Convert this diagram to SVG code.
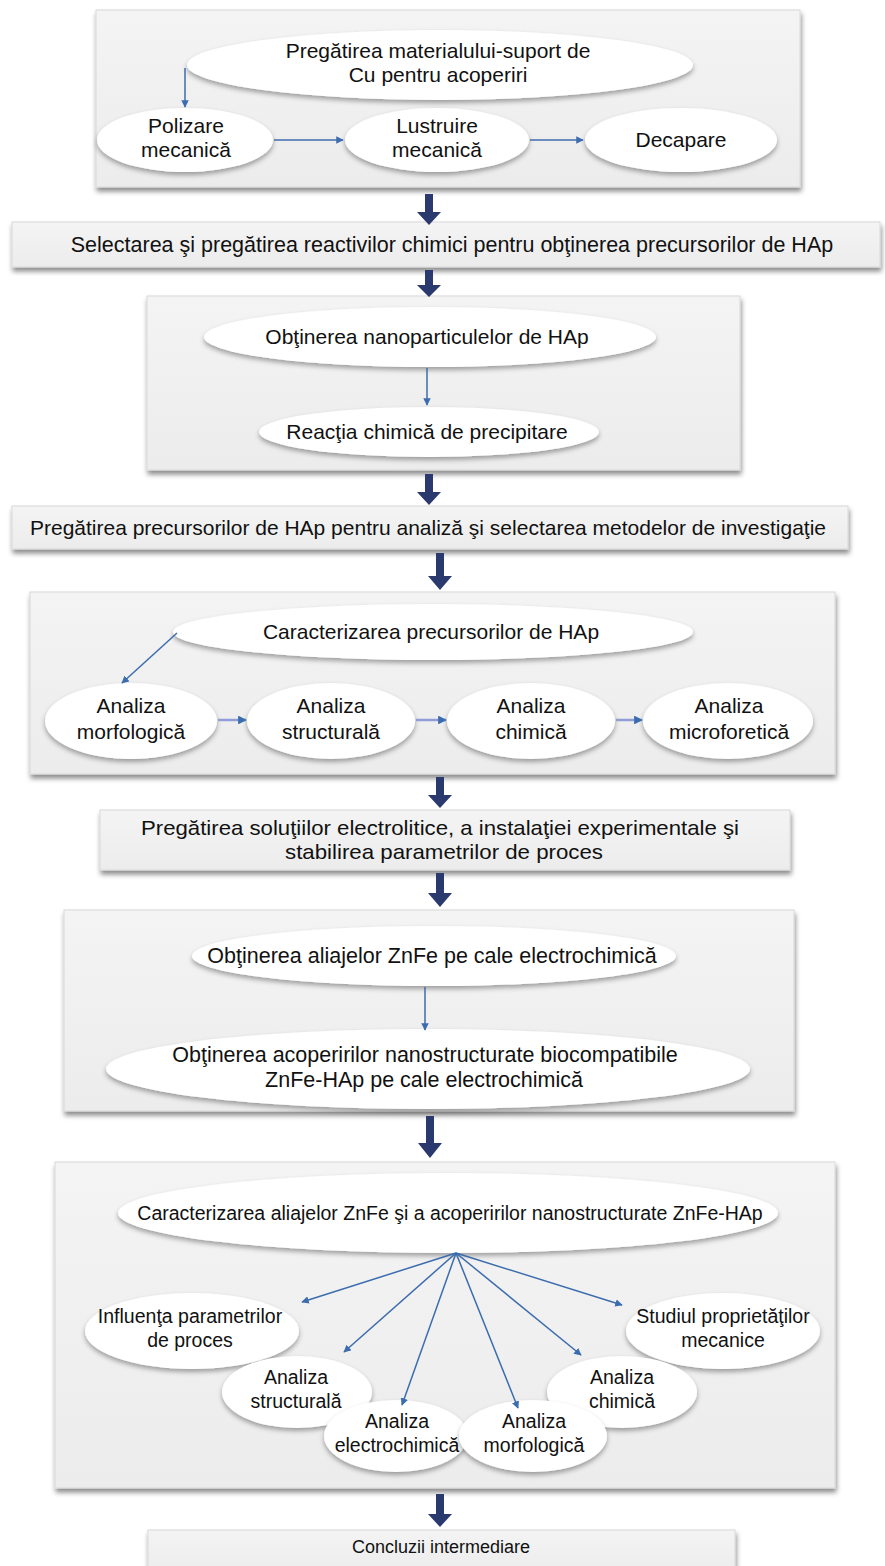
<svg xmlns="http://www.w3.org/2000/svg" width="885" height="1566" viewBox="0 0 885 1566">
<defs>
<filter id="sh" x="-10%" y="-10%" width="120%" height="130%">
<feDropShadow dx="1" dy="4" stdDeviation="2.5" flood-color="#000" flood-opacity="0.45"/>
</filter>
<filter id="esh" x="-10%" y="-20%" width="120%" height="150%">
<feDropShadow dx="0" dy="3" stdDeviation="2.5" flood-color="#000" flood-opacity="0.35"/>
</filter>
<linearGradient id="boxg" x1="0" y1="0" x2="0" y2="1">
<stop offset="0" stop-color="#f4f4f4"/>
<stop offset="1" stop-color="#ececec"/>
</linearGradient>
<marker id="ah" viewBox="0 0 10 10" refX="9" refY="5" markerWidth="5" markerHeight="5" orient="auto" markerUnits="strokeWidth">
<path d="M0,0 L10,5 L0,10 z" fill="#3b6cae"/>
</marker>
<marker id="ahl" viewBox="0 0 10 10" refX="9" refY="5" markerWidth="3.5" markerHeight="3.5" orient="auto" markerUnits="strokeWidth">
<path d="M0,0 L10,5 L0,10 z" fill="#3b6cae"/>
</marker>
</defs>
<style>
.box{fill:url(#boxg);stroke:#d8d8d8;stroke-width:1;filter:url(#sh)}
.ell{fill:#ffffff;filter:url(#esh)}
.t{font-family:"Liberation Sans",Arial,sans-serif;font-size:21px;fill:#111;text-anchor:middle}
.s195{font-size:19.5px}
.s215{font-size:21.5px}
.s18{font-size:18px}
.c{stroke:#3b6cae;stroke-width:1.5;fill:none;marker-end:url(#ah)}
.cl{stroke:#8f9ed8;stroke-width:2.5;fill:none;marker-end:url(#ahl)}
.big{fill:#2b3a6e}
</style>
<rect width="885" height="1566" fill="#ffffff"/>

<g id="box1">
<rect class="box" x="96" y="10" width="704" height="177"/>
</g>
<g id="n_pregatire_cu">
<ellipse class="ell" cx="440" cy="65" rx="253" ry="35"/>
<text class="t" x="438" y="58">Pregătirea materialului-suport de</text>
<text class="t" x="438" y="82">Cu pentru acoperiri</text>
</g>
<g id="n_polizare">
<ellipse class="ell" cx="185" cy="140" rx="88" ry="32"/>
<text class="t" x="186" y="133">Polizare</text>
<text class="t" x="186" y="157">mecanică</text>
</g>
<g id="n_lustruire">
<ellipse class="ell" cx="437" cy="140" rx="92" ry="32"/>
<text class="t" x="437" y="133">Lustruire</text>
<text class="t" x="437" y="157">mecanică</text>
</g>
<g id="n_decapare">
<ellipse class="ell" cx="681" cy="140" rx="96" ry="32"/>
<text class="t" x="681" y="147">Decapare</text>
</g>

<g id="bar2">
<rect class="box" x="12" y="222" width="868" height="45"/>
<text class="t s215" x="452" y="252">Selectarea şi pregătirea reactivilor chimici pentru obţinerea precursorilor de HAp</text>
</g>

<g id="box3">
<rect class="box" x="147" y="296" width="593" height="174"/>
</g>
<g id="n_nanoparticule">
<ellipse class="ell" cx="430" cy="337" rx="226" ry="30"/>
<text class="t" x="427" y="344">Obţinerea nanoparticulelor de HAp</text>
</g>
<g id="n_reactia">
<ellipse class="ell" cx="429" cy="432" rx="170" ry="25"/>
<text class="t" x="427" y="439">Reacţia chimică de precipitare</text>
</g>

<g id="bar4">
<rect class="box" x="12" y="506" width="836" height="43"/>
<text class="t" x="428" y="535">Pregătirea precursorilor de HAp pentru analiză şi selectarea metodelor de investigaţie</text>
</g>

<g id="box5">
<rect class="box" x="30" y="592" width="805" height="182"/>
</g>
<g id="n_caract_prec">
<ellipse class="ell" cx="433" cy="632" rx="260" ry="28"/>
<text class="t" x="431" y="639">Caracterizarea precursorilor de HAp</text>
</g>
<g id="n_morf1">
<ellipse class="ell" cx="131" cy="721" rx="86" ry="38"/>
<text class="t" x="131" y="713">Analiza</text>
<text class="t" x="131" y="739">morfologică</text>
</g>
<g id="n_struct1">
<ellipse class="ell" cx="331" cy="721" rx="84" ry="38"/>
<text class="t" x="331" y="713">Analiza</text>
<text class="t" x="331" y="739">structurală</text>
</g>
<g id="n_chim1">
<ellipse class="ell" cx="531" cy="721" rx="84" ry="38"/>
<text class="t" x="531" y="713">Analiza</text>
<text class="t" x="531" y="739">chimică</text>
</g>
<g id="n_microf">
<ellipse class="ell" cx="728" cy="721" rx="85" ry="38"/>
<text class="t" x="729" y="713">Analiza</text>
<text class="t" x="729" y="739">microforetică</text>
</g>

<g id="bar6">
<rect class="box" x="100" y="810" width="690" height="60"/>
<text class="t" x="440" y="835" textLength="598" lengthAdjust="spacingAndGlyphs">Pregătirea soluţiilor electrolitice, a instalaţiei experimentale şi</text>
<text class="t" x="444" y="859" textLength="318" lengthAdjust="spacingAndGlyphs">stabilirea parametrilor de proces</text>
</g>

<g id="box7">
<rect class="box" x="64" y="910" width="730" height="201"/>
</g>
<g id="n_aliaje">
<ellipse class="ell" cx="434" cy="956" rx="242" ry="30"/>
<text class="t s215" x="432" y="963">Obţinerea aliajelor ZnFe pe cale electrochimică</text>
</g>
<g id="n_acoperiri">
<ellipse class="ell" cx="428" cy="1069" rx="322" ry="40"/>
<text class="t s215" x="425" y="1062">Obţinerea acoperirilor nanostructurate biocompatibile</text>
<text class="t s215" x="424" y="1087">ZnFe-HAp pe cale electrochimică</text>
</g>

<g id="box8">
<rect class="box" x="55" y="1162" width="780" height="326"/>
</g>
<g id="n_caract_znfe">
<ellipse class="ell" cx="448" cy="1213" rx="330" ry="40"/>
<text class="t s195" x="450" y="1220">Caracterizarea aliajelor ZnFe şi a acoperirilor nanostructurate ZnFe-HAp</text>
</g>
<g id="n_influenta">
<ellipse class="ell" cx="192" cy="1331" rx="107" ry="38"/>
<text class="t s195" x="190" y="1323">Influenţa parametrilor</text>
<text class="t s195" x="190" y="1347">de proces</text>
</g>
<g id="n_mecanice">
<ellipse class="ell" cx="723" cy="1331" rx="97" ry="38"/>
<text class="t s195" x="723" y="1323">Studiul proprietăţilor</text>
<text class="t s195" x="723" y="1347">mecanice</text>
</g>
<g id="n_struct2">
<ellipse class="ell" cx="297" cy="1392" rx="75" ry="36"/>
<text class="t s195" x="296" y="1384">Analiza</text>
<text class="t s195" x="296" y="1408">structurală</text>
</g>
<g id="n_chim2">
<ellipse class="ell" cx="622" cy="1392" rx="75" ry="36"/>
<text class="t s195" x="622" y="1384">Analiza</text>
<text class="t s195" x="622" y="1408">chimică</text>
</g>
<g id="n_electro">
<ellipse class="ell" cx="396" cy="1436" rx="72" ry="36"/>
<text class="t s195" x="397" y="1428">Analiza</text>
<text class="t s195" x="397" y="1452">electrochimică</text>
</g>
<g id="n_morf2">
<ellipse class="ell" cx="533" cy="1436" rx="74" ry="36"/>
<text class="t s195" x="534" y="1428">Analiza</text>
<text class="t s195" x="534" y="1452">morfologică</text>
</g>

<g id="bar9">
<rect class="box" x="148" y="1530" width="587" height="44"/>
<text class="t s18" x="441" y="1553">Concluzii intermediare</text>
</g>

<g id="connectors">
<path class="c" d="M185,68 L185,107"/>
<path class="c" d="M274,140 L343,140"/>
<path class="c" d="M530,140 L583,140"/>
<path class="c" d="M427,368 L427,405"/>
<path class="c" d="M177,633 L122,683"/>
<path class="cl" d="M218,720 L246,720"/>
<path class="cl" d="M416,720 L446,720"/>
<path class="cl" d="M616,720 L642,720"/>
<path class="c" d="M425,987 L425,1030"/>
<path class="c" d="M456,1253 L302,1302"/>
<path class="c" d="M456,1253 L344,1352"/>
<path class="c" d="M456,1253 L402,1405"/>
<path class="c" d="M456,1253 L518,1408"/>
<path class="c" d="M456,1253 L581,1355"/>
<path class="c" d="M456,1253 L622,1305"/>
<path class="big" d="M425,194 h8 v18 h8 l-12,13 l-12,-13 h8 z"/>
<path class="big" d="M425,270 h8 v15 h8 l-12,12 l-12,-12 h8 z"/>
<path class="big" d="M425,474 h8 v18 h8 l-12,13 l-12,-13 h8 z"/>
<path class="big" d="M436,553 h8 v23 h8 l-12,14 l-12,-14 h8 z"/>
<path class="big" d="M436,777 h8 v18 h8 l-12,13 l-12,-13 h8 z"/>
<path class="big" d="M436,873 h8 v20 h8 l-12,14 l-12,-14 h8 z"/>
<path class="big" d="M426,1116 h8 v27 h8 l-12,15 l-12,-15 h8 z"/>
<path class="big" d="M436,1494 h8 v20 h8 l-12,13 l-12,-13 h8 z"/>
</g>
</svg>
